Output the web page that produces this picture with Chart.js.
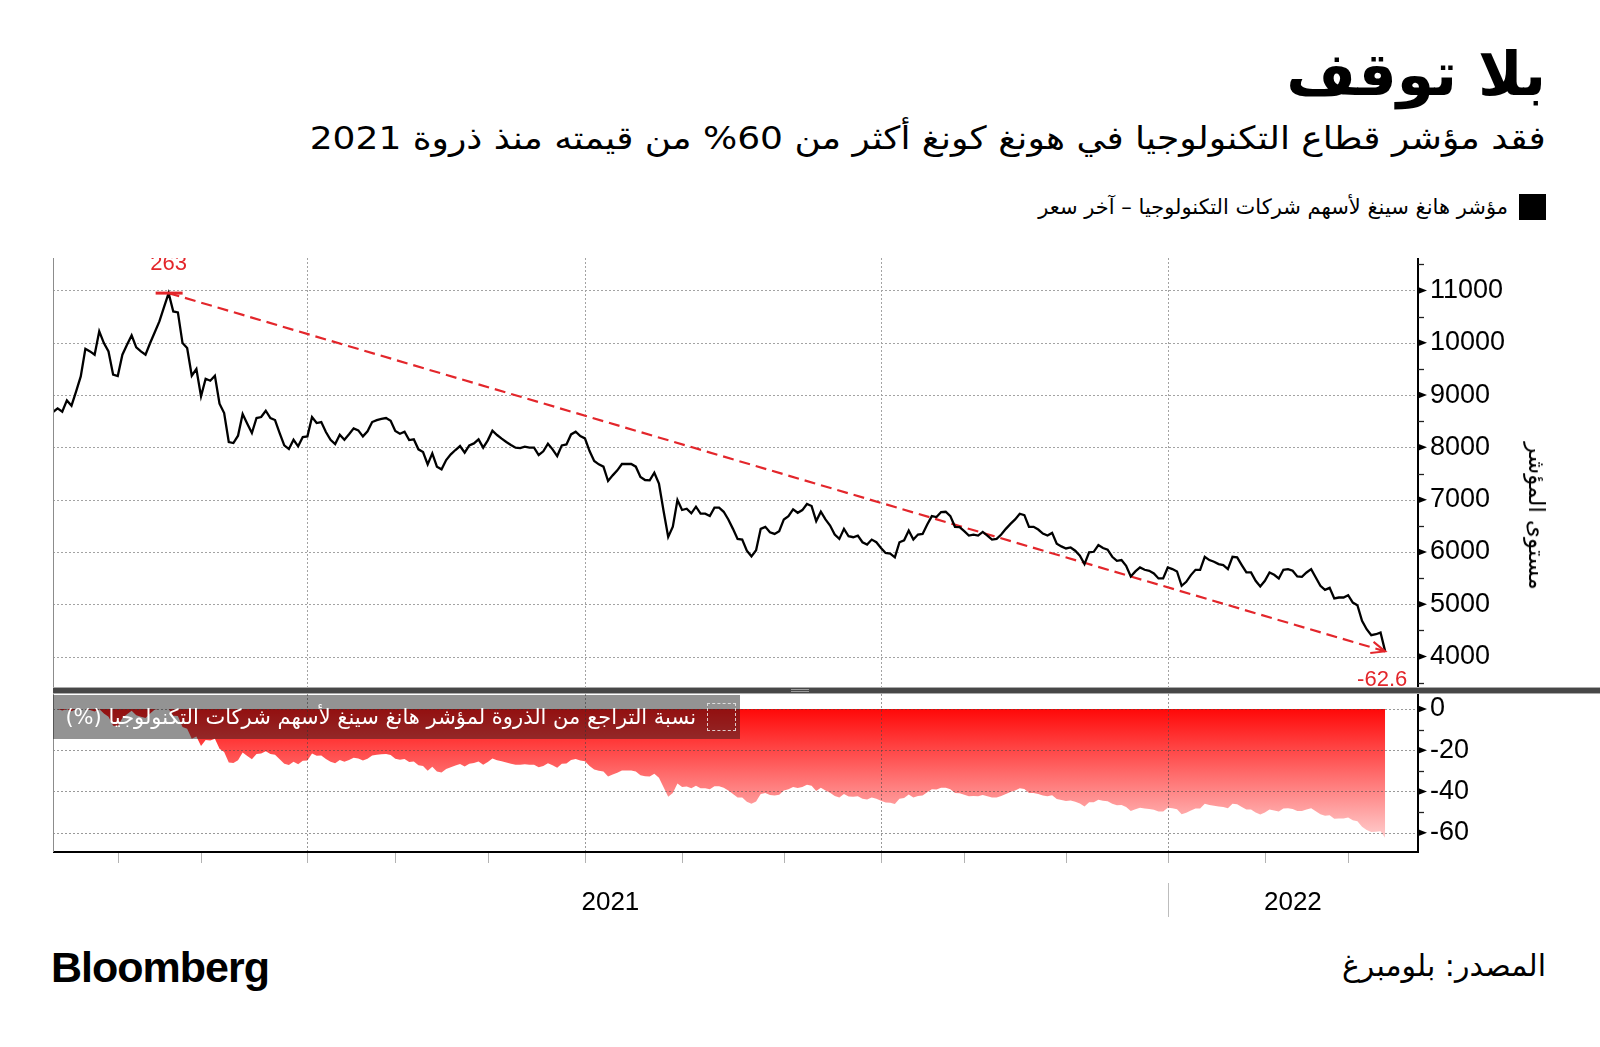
<!DOCTYPE html>
<html><head><meta charset="utf-8">
<script src="https://cdn.jsdelivr.net/npm/chart.js@4.4.1/dist/chart.umd.min.js"></script>
<style>
html,body{margin:0;padding:0;background:#fff;}
#root{position:relative;width:1600px;height:1047px;overflow:hidden;background:#fff;}
.ar{font-family:"DejaVu Sans",sans-serif;direction:rtl;position:absolute;white-space:nowrap;color:#000;}
canvas{position:absolute;left:0;}
</style></head><body><div id="root">
<div class="ar" style="right:54px;top:34px;font-size:60px;font-weight:bold;line-height:80px;">بلا توقف</div>
<div class="ar" style="right:54px;top:116px;font-size:32px;line-height:44px;transform:scaleX(1.125);transform-origin:right center;">فقد مؤشر قطاع التكنولوجيا في هونغ كونغ أكثر من 60% من قيمته منذ ذروة 2021</div>
<div style="position:absolute;left:1519px;top:194px;width:27px;height:26px;background:#000;"></div>
<div class="ar" style="right:92px;top:193px;font-size:21px;line-height:28px;">مؤشر هانغ سينغ لأسهم شركات التكنولوجيا – آخر سعر</div>
<canvas id="topC" width="1600" height="450" style="top:250px"></canvas>
<canvas id="botC" width="1600" height="250" style="top:690px"></canvas>
<div style="position:absolute;left:53px;top:687px;width:1547px;height:7px;background:linear-gradient(#aaa 0 1px,#474747 1px 6px,#aaa 6px 7px);"></div>
<div style="position:absolute;left:791px;top:689px;width:18px;height:1px;border-top:1px solid #999;border-bottom:1px solid #999;"></div>
<div style="position:absolute;left:53px;top:695px;width:687px;height:44px;background:rgba(25,25,25,0.47);">
  <div class="ar" style="right:44px;top:0;font-size:21px;line-height:44px;color:#fff;">نسبة التراجع من الذروة لمؤشر هانغ سينغ لأسهم شركات التكنولوجيا (%)</div>
  <div style="position:absolute;left:654px;top:8px;width:27px;height:26px;border:1.5px dashed rgba(235,235,235,0.85);"></div>
</div>
<div class="ar" style="left:1537px;top:516px;font-size:23px;line-height:28px;transform:translate(-50%,-50%) rotate(90deg);">مستوى المؤشر</div>
<div style="position:absolute;left:51px;top:942px;font-family:'Liberation Sans',Arial,sans-serif;font-weight:bold;font-size:43px;line-height:50px;letter-spacing:-1px;color:#000;">Bloomberg</div>
<div class="ar" style="right:54px;top:945px;font-size:30px;line-height:42px;">المصدر: بلومبرغ</div>
</div>
<script>
// ---- data (trading-day index, Jan 2021 – Mar 2022) ----
const priceValues = [
8675,8745,8682,8898,8796,9070,9357,9885,9834,9771,
10217,9994,9834,9389,9363,9771,9960,10140,9911,9834,
9771,9994,10200,10408,10680,10949,10599,10580,9994,9898,
9369,9497,8975,9312,9274,9369,8834,8656,8102,8083,
8223,8637,8452,8274,8561,8580,8701,8561,8522,8274,
8038,7968,8146,8019,8197,8210,8580,8465,8484,8293,
8146,8064,8242,8146,8250,8363,8325,8210,8306,8484,
8520,8545,8561,8510,8312,8261,8299,8140,8153,7962,
7911,7675,7885,7631,7580,7758,7866,7949,8025,7898,
8038,8076,8153,7994,8134,8318,8236,8166,8102,8045,
7994,7987,8013,7994,7994,7854,7924,8070,7962,7834,
8038,8057,8248,8299,8217,8172,7930,7739,7675,7631,
7357,7465,7561,7682,7682,7682,7631,7433,7376,7369,
7516,7306,6783,6287,6484,6994,6803,6828,6739,6866,
6732,6732,6688,6847,6847,6769,6622,6442,6250,6237,
6026,5917,6032,6442,6481,6378,6346,6397,6622,6686,
6814,6750,6801,6917,6878,6590,6769,6622,6506,6333,
6250,6442,6301,6282,6314,6186,6141,6237,6186,6077,
5981,5968,5897,6186,6224,6410,6237,6333,6346,6526,
6686,6667,6763,6769,6686,6481,6474,6397,6314,6333,
6314,6385,6314,6237,6250,6333,6442,6538,6622,6731,
6705,6481,6481,6429,6353,6314,6365,6160,6107,6068,
6087,6024,5928,5768,5992,6004,6132,6075,6043,5909,
5832,5845,5736,5532,5628,5704,5660,5641,5590,5494,
5494,5704,5673,5628,5354,5430,5558,5660,5660,5909,
5845,5813,5768,5749,5673,5909,5896,5749,5609,5609,
5449,5341,5449,5609,5564,5494,5660,5673,5641,5532,
5526,5609,5673,5513,5354,5277,5315,5111,5130,5130,
5175,5034,4983,4683,4524,4409,4428,4460,4100
];
const drawdownValues = [
0,0,-0.7,0,-1.1,0,0,0,-0.5,-1.2,
0,-2.2,-3.7,-8.1,-8.4,-4.4,-2.5,-0.8,-3.0,-3.7,
-4.4,-2.2,-0.2,0,0,0,-3.2,-3.4,-8.7,-9.6,
-14.4,-13.3,-18.0,-15.0,-15.3,-14.4,-19.3,-20.9,-26.0,-26.2,
-24.9,-21.1,-22.8,-24.4,-21.8,-21.6,-20.5,-21.8,-22.2,-24.4,
-26.6,-27.2,-25.6,-26.8,-25.1,-25.0,-21.6,-22.7,-22.5,-24.3,
-25.6,-26.3,-24.7,-25.6,-24.7,-23.6,-24.0,-25.0,-24.1,-22.5,
-22.2,-22.0,-21.8,-22.3,-24.1,-24.6,-24.2,-25.7,-25.5,-27.3,
-27.7,-29.9,-28.0,-30.3,-30.8,-29.1,-28.2,-27.4,-26.7,-27.9,
-26.6,-26.2,-25.5,-27.0,-25.7,-24.0,-24.8,-25.4,-26.0,-26.5,
-27.0,-27.1,-26.8,-27.0,-27.0,-28.3,-27.6,-26.3,-27.3,-28.5,
-26.6,-26.4,-24.7,-24.2,-25.0,-25.4,-27.6,-29.3,-29.9,-30.3,
-32.8,-31.8,-30.9,-29.8,-29.8,-29.8,-30.3,-32.1,-32.6,-32.7,
-31.4,-33.3,-38.0,-42.6,-40.8,-36.1,-37.9,-37.6,-38.4,-37.3,
-38.5,-38.5,-38.9,-37.5,-37.5,-38.2,-39.5,-41.2,-42.9,-43.0,
-45.0,-46.0,-44.9,-41.2,-40.8,-41.7,-42.0,-41.6,-39.5,-38.9,
-37.8,-38.3,-37.9,-36.8,-37.2,-39.8,-38.2,-39.5,-40.6,-42.2,
-42.9,-41.2,-42.5,-42.6,-42.3,-43.5,-43.9,-43.0,-43.5,-44.5,
-45.4,-45.5,-46.1,-43.5,-43.2,-41.5,-43.0,-42.2,-42.0,-40.4,
-38.9,-39.1,-38.2,-38.2,-38.9,-40.8,-40.9,-41.6,-42.3,-42.2,
-42.3,-41.7,-42.3,-43.0,-42.9,-42.2,-41.2,-40.3,-39.5,-38.5,
-38.8,-40.8,-40.8,-41.3,-42.0,-42.3,-41.9,-43.7,-44.2,-44.6,
-44.4,-45.0,-45.9,-47.3,-45.3,-45.2,-44.0,-44.5,-44.8,-46.0,
-46.7,-46.6,-47.6,-49.5,-48.6,-47.9,-48.3,-48.5,-48.9,-49.8,
-49.8,-47.9,-48.2,-48.6,-51.1,-50.4,-49.2,-48.3,-48.3,-46.0,
-46.6,-46.9,-47.3,-47.5,-48.2,-46.0,-46.2,-47.5,-48.8,-48.8,
-50.2,-51.2,-50.2,-48.8,-49.2,-49.8,-48.3,-48.2,-48.5,-49.5,
-49.5,-48.8,-48.2,-49.6,-51.1,-51.8,-51.5,-53.3,-53.1,-53.1,
-52.7,-54.0,-54.5,-57.2,-58.7,-59.7,-59.6,-59.3,-62.6
];
// trading-day index of the first session of each month (Feb 2021 … Mar 2022)
const monthStartIdx = [14,32,55,74,94,115,136,158,179,197,219,241,262,280];
const quarterStartIdx = [55,115,179,241];
const yearLabels = ['2021','2022'];
const yearStartIdx = 241;
const lastAxisIdx = 295.1;
const topTickValues = [4000,5000,6000,7000,8000,9000,10000,11000];
const topMinorTicks = [3500,4500,5500,6500,7500,8500,9500,10500,11500];
const ddTickValues = [0,-20,-40,-60];
const ddMinorTicks = [-10,-30,-50];
const peakLabel = '263';
const lastLabel = '-62.6';

// ---- rendering ----
const RED = '#e3262b';
Chart.defaults.font.family = '"Liberation Sans", Arial, sans-serif';
const peakIdx = priceValues.indexOf(Math.max(...priceValues));
const lastIdx = priceValues.length - 1;

function rightTicks(ctx, a, y, majors, minors){
  ctx.save();
  ctx.fillStyle = '#000';
  majors.forEach(v=>{
    const py = y.getPixelForValue(v);
    ctx.beginPath(); ctx.moveTo(a.right, py-3.5); ctx.lineTo(a.right+9, py); ctx.lineTo(a.right, py+3.5); ctx.closePath(); ctx.fill();
  });
  ctx.strokeStyle = '#222'; ctx.lineWidth = 1.3;
  minors.forEach(v=>{
    const py = Math.round(y.getPixelForValue(v))+0.5;
    if (py < a.top || py > a.bottom) return;
    ctx.beginPath(); ctx.moveTo(a.right, py); ctx.lineTo(a.right+6, py); ctx.stroke();
  });
  ctx.restore();
}
function frame(ctx, a){
  ctx.save();
  ctx.strokeStyle = '#8c8c8c'; ctx.lineWidth = 1;
  ctx.beginPath(); ctx.moveTo(a.left+0.5, a.top); ctx.lineTo(a.left+0.5, a.bottom); ctx.stroke();
  ctx.strokeStyle = '#000'; ctx.lineWidth = 2;
  ctx.beginPath(); ctx.moveTo(a.right, a.top); ctx.lineTo(a.right, a.bottom+1); ctx.stroke();
  ctx.restore();
}

const topPlugin = {
  id: 'topDeco',
  beforeDatasetsDraw(chart){
    const {ctx, chartArea:a, scales:{x, y}} = chart;
    ctx.save();
    ctx.lineWidth = 1; ctx.strokeStyle = '#a3a3a3'; ctx.setLineDash([2,2]);
    topTickValues.forEach(v=>{ const py=Math.round(y.getPixelForValue(v))+0.5; ctx.beginPath(); ctx.moveTo(a.left,py); ctx.lineTo(a.right,py); ctx.stroke(); });
    quarterStartIdx.forEach(d=>{ const px=Math.round(x.getPixelForValue(d))+0.5; ctx.beginPath(); ctx.moveTo(px,a.top); ctx.lineTo(px,a.bottom); ctx.stroke(); });
    ctx.restore();
  },
  afterDatasetsDraw(chart){
    const {ctx, chartArea:a, scales:{x, y}} = chart;
    const px = x.getPixelForValue(peakIdx), py = y.getPixelForValue(priceValues[peakIdx]);
    const lx = x.getPixelForValue(lastIdx), ly = y.getPixelForValue(priceValues[lastIdx]);
    ctx.save();
    ctx.strokeStyle = RED; ctx.lineWidth = 3;
    ctx.beginPath(); ctx.moveTo(px-13, py); ctx.lineTo(px+14, py); ctx.stroke();
    const ang = Math.atan2(ly-py, lx-px);
    ctx.lineWidth = 2;
    ctx.beginPath();
    ctx.moveTo(lx-15*Math.cos(ang-0.4), ly-15*Math.sin(ang-0.4));
    ctx.lineTo(lx, ly);
    ctx.lineTo(lx-15*Math.cos(ang+0.4), ly-15*Math.sin(ang+0.4));
    ctx.stroke();
    ctx.beginPath(); ctx.rect(a.left, a.top, a.right-a.left, a.bottom-a.top); ctx.clip();
    ctx.fillStyle = RED; ctx.font = '22px "Liberation Sans"'; ctx.textAlign = 'center'; ctx.textBaseline = 'alphabetic';
    ctx.fillText(peakLabel, px, a.top+12);
    ctx.fillText(lastLabel, lx-3, a.bottom-2);
    ctx.restore();
    frame(ctx, a);
    rightTicks(ctx, a, y, topTickValues, topMinorTicks);
  }
};

const botPlugin = {
  id: 'botDeco',
  afterDatasetsDraw(chart){
    const {ctx, chartArea:a, scales:{x, y}} = chart;
    ctx.save();
    ctx.lineWidth = 1; ctx.strokeStyle = 'rgba(70,70,70,0.55)'; ctx.setLineDash([2,2]);
    ddTickValues.forEach(v=>{ const py=Math.round(y.getPixelForValue(v))+0.5; ctx.beginPath(); ctx.moveTo(a.left,py); ctx.lineTo(a.right,py); ctx.stroke(); });
    quarterStartIdx.forEach(d=>{ const px=Math.round(x.getPixelForValue(d))+0.5; ctx.beginPath(); ctx.moveTo(px,a.top); ctx.lineTo(px,a.bottom); ctx.stroke(); });
    ctx.setLineDash([]);
    ctx.strokeStyle = '#b3b3b3';
    monthStartIdx.forEach(d=>{ const px=Math.round(x.getPixelForValue(d))+0.5; ctx.beginPath(); ctx.moveTo(px,a.bottom+1); ctx.lineTo(px,a.bottom+11); ctx.stroke(); });
    const sx = Math.round(x.getPixelForValue(yearStartIdx))+0.5;
    ctx.strokeStyle = '#bdbdbd';
    ctx.beginPath(); ctx.moveTo(sx, a.bottom+31); ctx.lineTo(sx, a.bottom+65); ctx.stroke();
    ctx.fillStyle = '#000'; ctx.font = '26px "Liberation Sans"'; ctx.textAlign = 'center'; ctx.textBaseline = 'middle';
    ctx.fillText(yearLabels[0], (x.getPixelForValue(x.min)+x.getPixelForValue(yearStartIdx))/2, a.bottom+51);
    ctx.fillText(yearLabels[1], (x.getPixelForValue(yearStartIdx)+x.getPixelForValue(x.max))/2, a.bottom+51);
    ctx.strokeStyle = '#000'; ctx.lineWidth = 2;
    ctx.beginPath(); ctx.moveTo(a.left, a.bottom); ctx.lineTo(a.right, a.bottom); ctx.stroke();
    ctx.restore();
    frame(ctx, a);
    rightTicks(ctx, a, y, ddTickValues, ddMinorTicks);
  }
};

function yScale(min, max, ticks){
  return {
    position: 'right', min, max,
    grid: {display:false, drawTicks:false}, border: {display:false},
    afterBuildTicks(s){ s.ticks = ticks.map(v=>({value:v})); },
    afterFit(s){ s.width = 182; s.paddingTop = 0; s.paddingBottom = 0; },
    ticks: { padding: 12, color: '#000', font: {size: 27, family: '"Liberation Sans"'}, callback: v => String(v) }
  };
}

new Chart(document.getElementById('topC'), {
  type: 'line',
  data: { datasets: [
    { data: priceValues.map((v,i)=>({x:i, y:v})), borderColor:'#000', borderWidth:2.3, pointRadius:0, tension:0, fill:false },
    { data: [{x:peakIdx, y:priceValues[peakIdx]}, {x:lastIdx, y:priceValues[lastIdx]}], borderColor:RED, borderWidth:2.2, borderDash:[11,6], pointRadius:0, fill:false }
  ]},
  options: {
    responsive:false, animation:false, events:[],
    layout: {padding: {left:53, top:8, bottom:12, right:0}},
    plugins: {legend:{display:false}, tooltip:{enabled:false}},
    scales: {
      x: {type:'linear', min:0, max:lastAxisIdx, display:false},
      y: yScale(3400, 11620, topTickValues)
    }
  },
  plugins: [topPlugin]
});

new Chart(document.getElementById('botC'), {
  type: 'line',
  data: { datasets: [
    { data: drawdownValues.map((v,i)=>({x:i, y:v})), borderWidth:0, borderColor:'rgba(0,0,0,0)', pointRadius:0, tension:0, fill:'origin',
      backgroundColor(c){
        const ch = c.chart; const a = ch.chartArea;
        if (!a) return 'rgba(255,60,60,0.8)';
        const ys = ch.scales.y;
        const g = ch.ctx.createLinearGradient(0, ys.getPixelForValue(0), 0, ys.getPixelForValue(-62.6));
        g.addColorStop(0, 'rgb(255,8,8)');
        g.addColorStop(1, 'rgb(255,205,205)');
        return g;
      } }
  ]},
  options: {
    responsive:false, animation:false, events:[],
    layout: {padding: {left:53, top:4, bottom:88, right:0}},
    plugins: {legend:{display:false}, tooltip:{enabled:false}},
    scales: {
      x: {type:'linear', min:0, max:lastAxisIdx, display:false},
      y: yScale(-69.4, 7.3, ddTickValues)
    }
  },
  plugins: [botPlugin]
});
</script>
</body></html>
